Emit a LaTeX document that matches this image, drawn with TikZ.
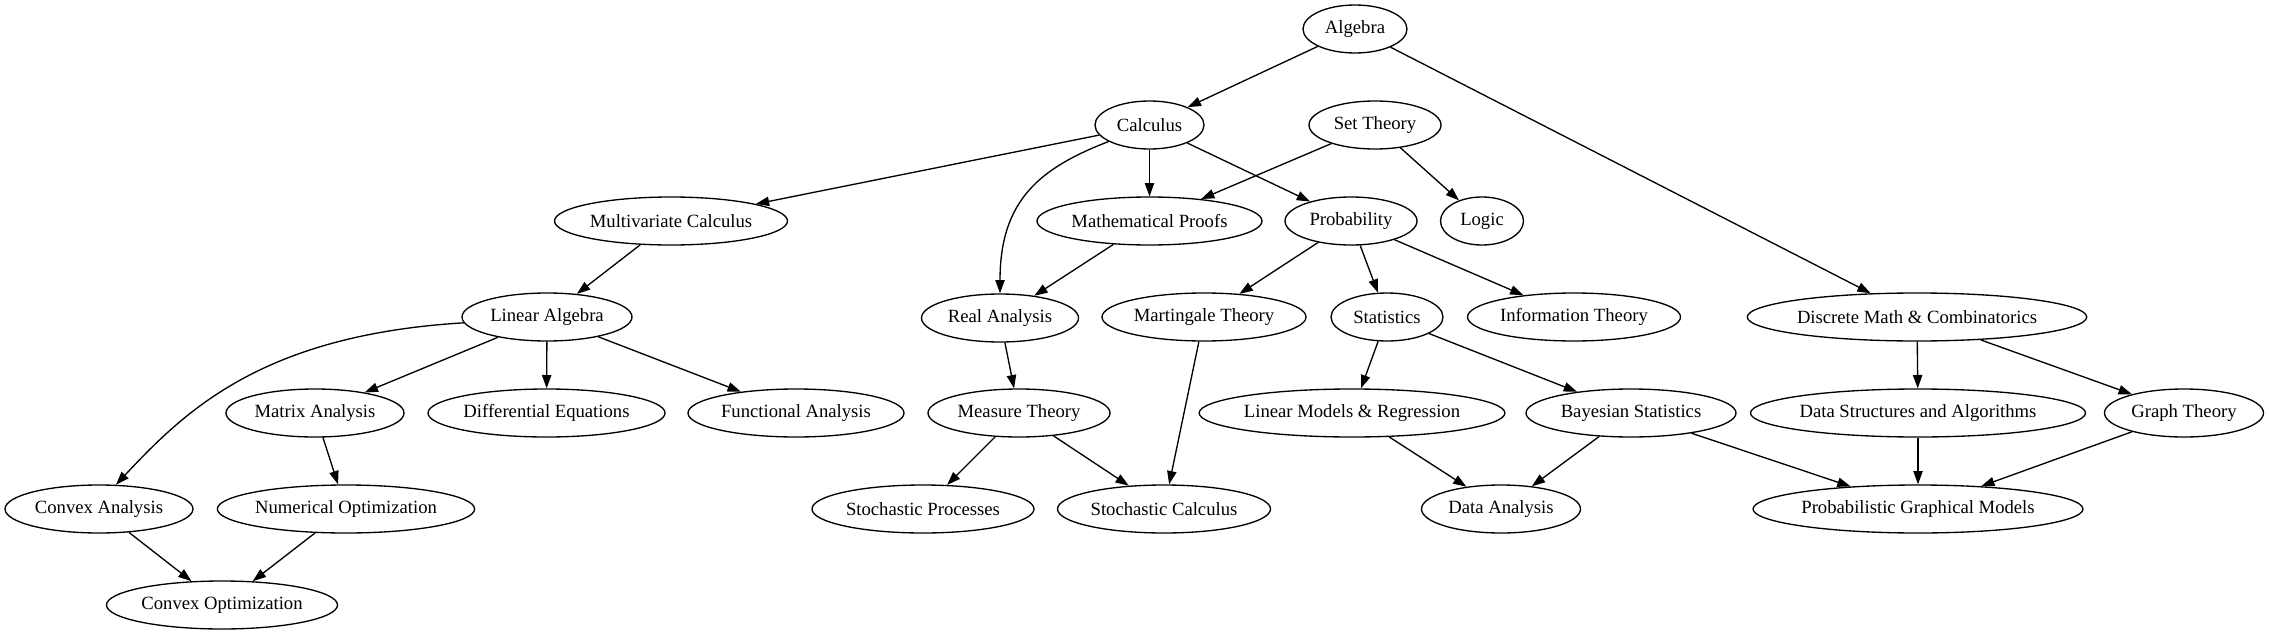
\documentclass[tikz,border=0pt]{standalone}
\usepackage{fontspec}
\setmainfont{Liberation Serif}
\usetikzlibrary{shapes.geometric,arrows.meta}
\tikzset{
  gv/.style={draw, ellipse, inner sep=0pt, minimum height=36pt, line width=1pt, font=\fontsize{14}{16}\selectfont},
  nw/.style={minimum width=#1*0.75pt},
  arr/.style={-{Triangle[length=10pt,width=7pt]}, line width=1pt}
}
\begin{document}
\begin{tikzpicture}[x=0.75pt,y=-0.75pt]
\useasboundingbox (0,0) rectangle (2269,635);
% row 1
\node[gv,nw=104] (alg) at (1355,29) {Algebra};
% row 2
\node[gv,nw=109] (cal) at (1149.5,125) {Calculus};
\node[gv,nw=132] (set) at (1375,125) {Set Theory};
% row 3
\node[gv,nw=233] (mvc) at (671,221) {Multivariate Calculus};
\node[gv,nw=225] (mp) at (1149.5,221) {Mathematical Proofs};
\node[gv,nw=132] (prob) at (1351,221) {Probability};
\node[gv,nw=83] (logic) at (1482,221) {Logic};
% row 4
\node[gv,nw=170] (la) at (547,317) {Linear Algebra};
\node[gv,nw=157] (ra) at (1000,318) {Real Analysis};
\node[gv,nw=204] (mart) at (1204,317) {Martingale Theory};
\node[gv,nw=112] (stat) at (1387,317) {Statistics};
\node[gv,nw=213] (info) at (1574,317) {Information Theory};
\node[gv,nw=330] (dm) at (1917,317) {Discrete Math \& Combinatorics};
% row 5
\node[gv,nw=178] (ma) at (315,413) {Matrix Analysis};
\node[gv,nw=237] (de) at (546.5,413) {Differential Equations};
\node[gv,nw=216] (fa) at (796,413) {Functional Analysis};
\node[gv,nw=182] (mt) at (1019,413) {Measure Theory};
\node[gv,nw=300] (lm) at (1352,413) {Linear Models \& Regression};
\node[gv,nw=210] (bs) at (1631,413) {Bayesian Statistics};
\node[gv,nw=326] (ds) at (1918,413) {Data Structures and Algorithms};
\node[gv,nw=159] (gt) at (2184,413) {Graph Theory};
% row 6
\node[gv,nw=188] (ca) at (99,509) {Convex Analysis};
\node[gv,nw=257] (no) at (346,509) {Numerical Optimization};
\node[gv,nw=222] (sp) at (923,509) {Stochastic Processes};
\node[gv,nw=213] (sc) at (1164,509) {Stochastic Calculus};
\node[gv,nw=159] (da) at (1501,509) {Data Analysis};
\node[gv,nw=323] (pgm) at (1918,509) {Probabilistic Graphical Models};
% row 7
\node[gv,nw=231] (co) at (222,605) {Convex Optimization};
% edges
\draw[arr] (alg) -- (cal);
\draw[arr] (alg) -- (dm);
\draw[arr] (cal) -- (mvc);
\draw[arr] (cal.-158) .. controls (1040,168) and (1000,200) .. (ra.north);
\draw[arr] (cal) -- (mp);
\draw[arr] (cal) -- (prob);
\draw[arr] (set) -- (mp);
\draw[arr] (set) -- (logic);
\draw[arr] (mvc) -- (la);
\draw[arr] (mp) -- (ra);
\draw[arr] (prob) -- (mart);
\draw[arr] (prob) -- (stat);
\draw[arr] (prob) -- (info);
\draw[arr] (la.184) .. controls (262,335) and (185,411) .. (ca.55);
\draw[arr] (la) -- (ma);
\draw[arr] (la) -- (de);
\draw[arr] (la) -- (fa);
\draw[arr] (ra) -- (mt);
\draw[arr] (mart) -- (sc);
\draw[arr] (stat) -- (lm);
\draw[arr] (stat) -- (bs);
\draw[arr] (dm) -- (ds);
\draw[arr] (dm) -- (gt);
\draw[arr] (ma) -- (no);
\draw[arr] (mt) -- (sp);
\draw[arr] (mt) -- (sc);
\draw[arr] (lm) -- (da);
\draw[arr] (bs) -- (da);
\draw[arr] (bs) -- (pgm);
\draw[arr] (ds) -- (pgm);
\draw[arr] (gt) -- (pgm);
\draw[arr] (ca) -- (co);
\draw[arr] (no) -- (co);
\end{tikzpicture}
\end{document}
